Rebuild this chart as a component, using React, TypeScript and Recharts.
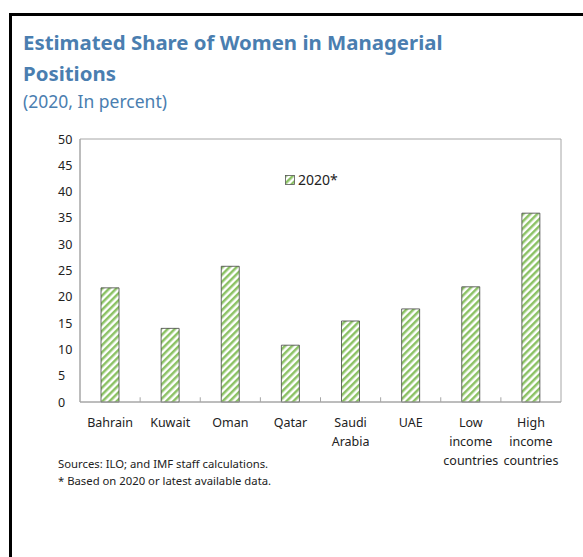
import React from "react";
import { BarChart, Bar, XAxis, YAxis, Legend, ReferenceArea, ReferenceLine } from "recharts";

const categories = ["Bahrain", "Kuwait", "Oman", "Qatar", "Saudi Arabia", "UAE", "Low income countries", "High income countries"];
const tickLines: string[][] = [
  ["Bahrain"],
  ["Kuwait"],
  ["Oman"],
  ["Qatar"],
  ["Saudi", "Arabia"],
  ["UAE"],
  ["Low", "income", "countries"],
  ["High", "income", "countries"],
];
const share2020 = [21.7, 14.0, 25.8, 10.8, 15.4, 17.7, 21.9, 35.9];
const yTicks = [0, 5, 10, 15, 20, 25, 30, 35, 40, 45, 50];
const boundaryTicks = [1, 2, 3, 4, 5, 6, 7];

// numeric x position = category centre
const data = categories.map((c, i) => ({ name: c, pos: i + 0.5, v: share2020[i] }));
const xTicks = data.map((d) => d.pos);

const FONT = "'Noto Sans', 'Open Sans', sans-serif";
const BLUE = "#4a7eb0";
const AXIS = "#a6a6a6";
const GREEN = "#8cc265";

function XTick(props: any) {
  const { x, y, payload } = props;
  const lines = tickLines[Math.floor(payload.value)] ?? [String(payload.value)];
  return (
    <text x={x} y={y + 17} textAnchor="middle" fontSize={12.5} fill="#222" fontFamily={FONT}>
      {lines.map((l, k) => (
        <tspan key={k} x={x} dy={k === 0 ? 0 : 19}>{l}</tspan>
      ))}
    </text>
  );
}

function YTick(props: any) {
  const { y, payload } = props;
  return (
    <text x={58} y={y + 4.5} textAnchor="start" fontSize={12.5} fill="#222" fontFamily={FONT}>
      {payload.value}
    </text>
  );
}

function LegendBox() {
  return (
    <div style={{ display: "flex", alignItems: "center", fontFamily: FONT, fontSize: 14, color: "#222" }}>
      <svg width={10} height={10} style={{ marginRight: 3 }}>
        <rect x={0.5} y={0.5} width={9} height={9} fill="url(#hatch)" stroke="#555" strokeWidth={0.8} />
      </svg>
      2020*
    </div>
  );
}

export default function App() {
  return (
    <div style={{ position: "absolute", left: 0, top: 0, width: 583, height: 557, background: "#fff", overflow: "hidden" }}>
      <div style={{ position: "absolute", left: 9, top: 13, width: 600, height: 600, borderLeft: "3px solid #000", borderTop: "3px solid #000" }} />
      <div style={{ position: "absolute", left: 23, top: 27, fontFamily: FONT, color: BLUE, fontWeight: 700, fontSize: 20.4, lineHeight: "31px" }}>
        Estimated Share of Women in Managerial<br />Positions
      </div>
      <div style={{ position: "absolute", left: 23, top: 89, fontFamily: FONT, color: BLUE, fontSize: 17.5, lineHeight: "24px" }}>
        (2020, In percent)
      </div>
      <div style={{ position: "absolute", top: 0, left: 0 }}>
        <BarChart width={583} height={557} data={data} margin={{ top: 139, right: 22, bottom: 76, left: 30 }}>
          <defs>
            <pattern id="hatch" patternUnits="userSpaceOnUse" width={5} height={5} patternTransform="rotate(45)">
              <rect width={5} height={5} fill="#fff" />
              <rect width={2.5} height={5} fill={GREEN} />
            </pattern>
          </defs>
          <XAxis dataKey="pos" type="number" domain={[0, 8]} ticks={xTicks} tick={<XTick />} tickLine={false} axisLine={{ stroke: AXIS }} interval={0} height={60} allowDataOverflow />
          <YAxis domain={[0, 50]} ticks={yTicks} tick={<YTick />} tickLine={false} axisLine={{ stroke: AXIS }} width={50} interval={0} />
          <ReferenceArea x1={0} x2={8} y1={0} y2={50} fill="none" stroke={AXIS} strokeWidth={1} />
          {boundaryTicks.map((b) => (
            <ReferenceLine key={b} segment={[{ x: b, y: 0 }, { x: b, y: 0.9 }]} stroke={AXIS} />
          ))}
          <Legend content={<LegendBox />} wrapperStyle={{ position: "absolute", left: 285, top: 170, width: "auto" }} />
          <Bar dataKey="v" barSize={18} fill="url(#hatch)" stroke="#444" strokeWidth={0.8} isAnimationActive={false} />
        </BarChart>
      </div>
      <div style={{ position: "absolute", left: 58, top: 455, fontFamily: FONT, fontSize: 11.3, color: "#222", lineHeight: "17px" }}>
        Sources: ILO; and IMF staff calculations.<br />* Based on 2020 or latest available data.
      </div>
    </div>
  );
}
